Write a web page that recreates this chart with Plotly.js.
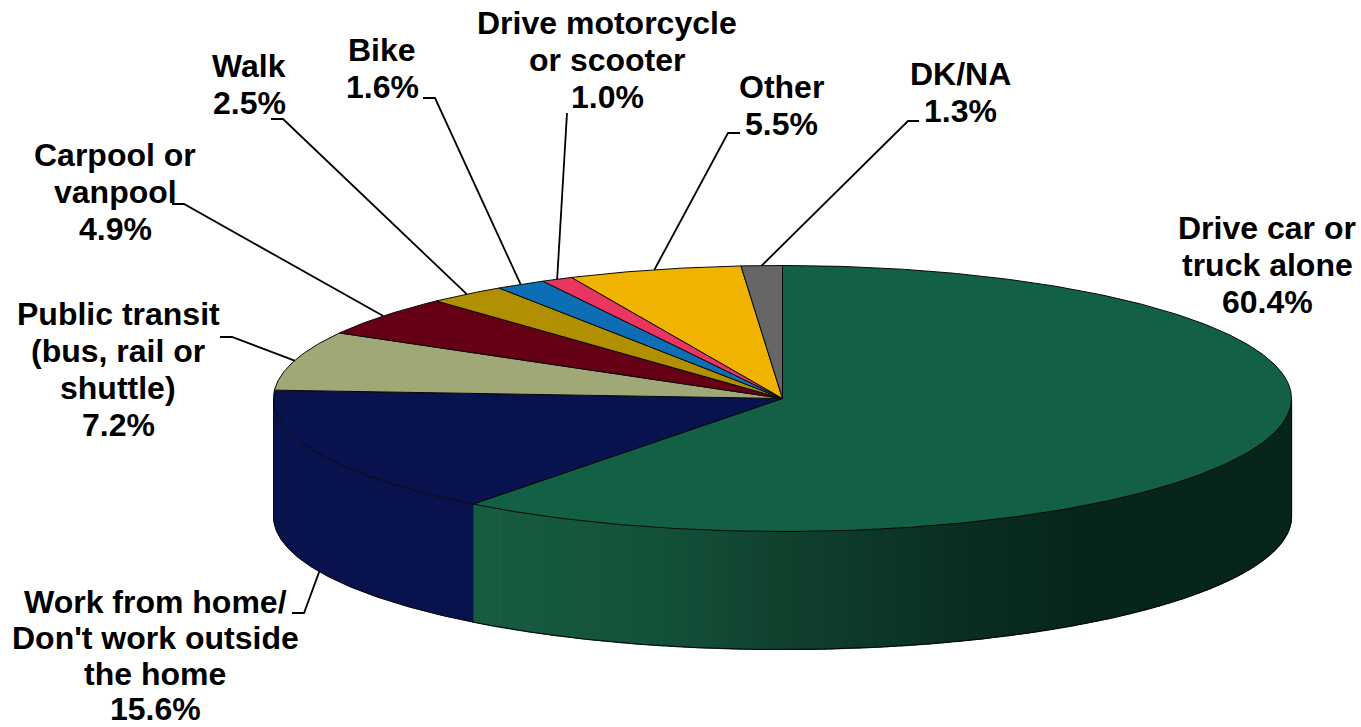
<!DOCTYPE html>
<html>
<head>
<meta charset="utf-8">
<script src="https://cdn.plot.ly/plotly-3.0.1.min.js"></script>
<style>html,body{margin:0;padding:0;background:#fff}#chart{width:1361px;height:727px}</style>
</head>
<body>
<div id="chart"></div>
<script>
// ---- data ----
const categories = [["Drive car or", "truck alone"], ["Work from home/", "Don't work outside", "the home"], ["Public transit", "(bus, rail or", "shuttle)"], ["Carpool or", "vanpool"], ["Walk"], ["Bike"], ["Drive motorcycle", "or scooter"], ["Other"], ["DK/NA"]];
const shares = [60.4, 15.6, 7.2, 4.9, 2.5, 1.6, 1.0, 5.5, 1.3];

// ---- styling and layout ----
const topColors = ["#136144", "#08124F", "#A0A878", "#650015", "#B09000", "#0D6DB5", "#EA3560", "#F0B400", "#666666"];
const labelX = [1267, 155, 118, 115, 249, 382, 607, 781, 960];
const firstBaseline = [239, 613, 325, 166, 77, 60.7, 34, 98, 85];
const linePitch = [37, 35.8, 37, 37, 37, 37, 37, 37, 37];
const leaderKnees = [null, [[292, 613], [304, 613]], [[220, 337], [232, 337]], [[172, 204], [184, 204]], [[271, 119], [283, 119]], [[423, 98], [435, 98]], [[567, 113]], [[740, 133], [728, 133]], [[919, 121], [908, 121]]];
const greenRamp = [[473, [23, 92, 65]], [640, [20, 83, 59]], [800, [15, 63, 45]], [950, [10, 48, 34]], [1080, [7, 37, 27]], [1295, [7, 37, 27]]];
const navySide = "#08124C";
const edge = "#080808";
const disc = {cx: 782.5, cy: 398.5, rx: 509, ry: 133, depth: 118};
const fontPx = 32;
const baselineToMiddle = 11;

function pt(deg, drop) {
  const r = deg * Math.PI / 180;
  return [disc.cx + disc.rx * Math.sin(r), disc.cy - disc.ry * Math.cos(r) + (drop || 0)];
}
function arc(a, b, drop) {
  const n = Math.max(2, Math.ceil(Math.abs(b - a) * 2)), out = [];
  for (let i = 0; i <= n; i++) out.push(pt(a + (b - a) * i / n, drop));
  return out;
}
function rampColor(x) {
  for (let i = 1; i < greenRamp.length; i++) {
    if (x <= greenRamp[i][0]) {
      const [x0, c0] = greenRamp[i - 1], [x1, c1] = greenRamp[i];
      const t = Math.max(0, (x - x0) / (x1 - x0));
      return "rgb(" + c0.map((v, k) => Math.round(v + (c1[k] - v) * t)).join(",") + ")";
    }
  }
  return "rgb(7,37,27)";
}
function poly(points, fill, line, width) {
  return {type: "scatter", mode: "lines", x: points.map(p => p[0]), y: points.map(p => p[1]),
    fill: "toself", fillcolor: fill, line: {color: line, width: width}, hoverinfo: "skip", showlegend: false};
}
function wall(a, b) {
  return arc(a, b, 0).concat(arc(b, a, disc.depth));
}

const total = shares.reduce((s, v) => s + v, 0);
const starts = [];
shares.reduce((s, v, i) => { starts[i] = s; return s + v; }, 0);
const angle = v => v / total * 360;

const traces = [];
const greenEnd = angle(shares[0]);

// side wall: green slice, drawn in thin strips to carry the shading
const stripCount = 160;
for (let i = 0; i < stripCount; i++) {
  const a = 90 + (greenEnd - 90) * i / stripCount;
  const b = 90 + (greenEnd - 90) * (i + 1) / stripCount;
  const col = rampColor((pt(a)[0] + pt(b)[0]) / 2);
  const w = wall(a, b);
  traces.push(poly(w.concat([w[0]]), col, col, 1.2));
}
// side wall: navy slice
const navyWall = wall(greenEnd, 270);
traces.push(poly(navyWall.concat([navyWall[0]]), navySide, navySide, 0.8));
// crisp outline along the bottom rim
const rim = arc(90, 270, disc.depth);
traces.push({type: "scatter", mode: "lines", x: rim.map(p => p[0]), y: rim.map(p => p[1]),
  line: {color: edge, width: 1}, hoverinfo: "skip", showlegend: false});
[90, 270].forEach(a => {
  const top = pt(a, 0), bot = pt(a, disc.depth);
  traces.push({type: "scatter", mode: "lines", x: [top[0], bot[0]], y: [top[1], bot[1]], line: {color: edge, width: 1}, hoverinfo: "skip", showlegend: false});
});

// top face
shares.forEach((v, i) => {
  const a = angle(starts[i]), b = angle(starts[i] + v);
  const shape = [[disc.cx, disc.cy]].concat(arc(a, b, 0), [[disc.cx, disc.cy]]);
  traces.push(poly(shape, topColors[i], edge, 1));
});

// leader lines: from the label knee to the slice's mid angle on the rim
shares.forEach((v, i) => {
  if (!leaderKnees[i]) return;
  const mid = angle(starts[i] + v / 2);
  const onFront = mid > 90 && mid < 270;
  const end = pt(mid, onFront ? disc.depth : 0);
  const path = leaderKnees[i].concat([end]);
  traces.push({type: "scatter", mode: "lines", x: path.map(p => p[0]), y: path.map(p => p[1]),
    line: {color: "#000000", width: 1.8}, hoverinfo: "skip", showlegend: false});
});

// one annotation per text line, so the line pitch can follow the picture
const annotations = [];
categories.forEach((lines, i) => {
  lines.concat([shares[i].toFixed(1) + "%"]).forEach((t, k) => {
    annotations.push({
      x: labelX[i], y: firstBaseline[i] + k * linePitch[i] - baselineToMiddle, xref: "x", yref: "y",
      xanchor: "center", yanchor: "middle", align: "center", showarrow: false,
      text: "<b>" + t + "</b>",
      font: {family: "Liberation Sans, Arial, sans-serif", size: fontPx, color: "#000000"}
    });
  });
});

const hiddenAxis = {visible: false, showgrid: false, zeroline: false, fixedrange: true};
const layout = {
  width: 1361, height: 727, margin: {l: 0, r: 0, t: 0, b: 0},
  paper_bgcolor: "#ffffff", plot_bgcolor: "#ffffff", showlegend: false,
  xaxis: Object.assign({range: [0, 1361]}, hiddenAxis),
  yaxis: Object.assign({range: [727, 0]}, hiddenAxis),
  annotations: annotations
};
Plotly.newPlot("chart", traces, layout, {displayModeBar: false, staticPlot: true});
</script>
</body>
</html>
